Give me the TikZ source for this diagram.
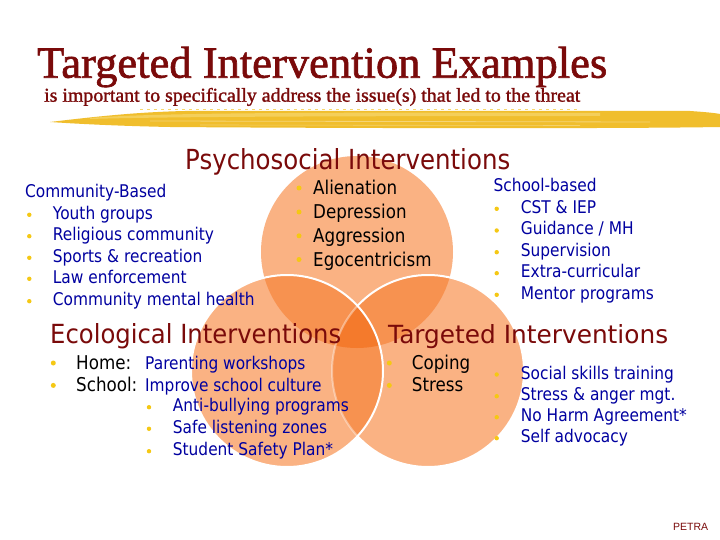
\documentclass[tikz,border=0pt]{standalone}
\usepackage{fontspec}
\setmainfont{Liberation Serif}
\newfontfamily\ttlfont{Liberation Serif}[FakeBold=1.4]
\newfontfamily\subfont{Liberation Serif}[FakeStretch=0.8, FakeBold=1.2]
\newfontfamily\tah{DejaVu Sans}[FakeStretch=0.88]
\newfontfamily\arl{Liberation Sans}
\definecolor{dred}{RGB}{122,10,10}
\definecolor{dblue}{RGB}{0,0,160}
\definecolor{byel}{RGB}{245,200,20}
\definecolor{cone}{RGB}{250,178,131}
\definecolor{ctwo}{RGB}{247,146,80}
\definecolor{cthree}{RGB}{244,122,44}
\definecolor{brushc}{RGB}{240,190,45}
\definecolor{brushl}{RGB}{247,215,110}
\tikzset{
  blu/.style={font=\tah\fontsize{17.5}{20}\selectfont, text=dblue, inner sep=0pt, anchor=base west},
  blk/.style={font=\tah\fontsize{19}{22}\selectfont, text=black, inner sep=0pt, anchor=base west},
  head/.style={text=dred, inner sep=0pt, anchor=base west},
  bul/.style={circle, fill=byel, inner sep=0pt, minimum size=4.4pt},
  bulb/.style={circle, fill=byel, inner sep=0pt, minimum size=5pt},
  ring/.style={white, line width=2pt},
}
\begin{document}
\begin{tikzpicture}[x=1pt,y=-1pt]
\useasboundingbox (0,0) rectangle (720,540);
\fill[white] (0,0) rectangle (720,540);

% brush stroke
\fill[brushc] (50,122) .. controls (100,116) and (140,112) .. (185,111)
  -- (690,111) .. controls (705,112) and (715,113) .. (720,114)
  -- (720,127) .. controls (600,129) and (300,128) .. (170,127)
  .. controls (120,126) and (80,124) .. (50,122) -- cycle;
\fill[brushl, opacity=0.7] (90,118) .. controls (150,113) and (300,112) .. (600,113)
  -- (600,116) .. controls (300,116) and (150,117) .. (90,119) -- cycle;
\draw[white, opacity=0.35, line width=0.8pt] (150,121) -- (650,122);
\draw[white, opacity=0.3, line width=0.6pt] (200,125) -- (580,125.5);
\draw[brushl, line width=1pt, dash pattern=on 3pt off 4pt] (140,109.5) -- (580,109.5);

% circles
\coordinate (T) at (357,252);
\coordinate (L) at (287,371);
\coordinate (R) at (428,371);
\fill[cone] (T) circle (96pt);
\fill[cone] (R) circle (96pt);
\fill[cone] (L) circle (96pt);
\begin{scope}
  \clip (T) circle (96pt);
  \fill[ctwo] (L) circle (96pt);
  \fill[ctwo] (R) circle (96pt);
\end{scope}
\begin{scope}
  \clip (L) circle (96pt);
  \fill[ctwo] (R) circle (96pt);
\end{scope}
\begin{scope}
  \clip (T) circle (96pt);
  \clip (L) circle (96pt);
  \fill[cthree] (R) circle (96pt);
\end{scope}
\begin{scope}[even odd rule]
  \clip (0,0) rectangle (720,540) (L) circle (96pt);
  \draw[ring] (R) circle (96pt);
\end{scope}
\begin{scope}
  \clip (L) circle (96pt);
  \draw[ring, opacity=0.4] (R) circle (96pt);
\end{scope}
\draw[ring] (L) circle (96pt);

% title
\node[head] (title) at (37,77.7) {\resizebox{570pt}{!}{\ttlfont\fontsize{44}{48}\selectfont Targeted Intervention Examples}};
\node[head] (sub) at (44,101.7) {\resizebox{536pt}{13.8pt}{\subfont\fontsize{19}{20}\selectfont is important to specifically address the issue(s) that led to the threat}};

% headings
\node[head] (psy) at (185,169.5) {\resizebox{325pt}{21pt}{\tah\fontsize{28}{30}\selectfont Psychosocial Interventions}};
\node[head] (eco) at (50,343.3) {\resizebox{291pt}{20pt}{\tah\fontsize{26}{28}\selectfont Ecological Interventions}};
\node[head] (tgt) at (388,343.3) {\resizebox{280pt}{19pt}{\tah\fontsize{26}{28}\selectfont Targeted Interventions}};

% community-based
\node[blu] (cb) at (25,197.3) {Community-Based};
\node[bul] (cb1b) at (29.3,214.8) {};
\node[blu] (cb1) at (52.7,219.3) {Youth groups};
\node[bul] (cb2b) at (29.3,236.2) {};
\node[blu] (cb2) at (52.7,240.7) {Religious community};
\node[bul] (cb3b) at (29.3,257.8) {};
\node[blu] (cb3) at (52.7,262.3) {Sports \& recreation};
\node[bul] (cb4b) at (29.3,278.8) {};
\node[blu] (cb4) at (52.7,283.3) {Law enforcement};
\node[bul] (cb5b) at (29.3,301.2) {};
\node[blu] (cb5) at (52.7,305.7) {Community mental health};

% psychosocial list
\node[bulb] (p1b) at (299,188) {};
\node[blk] (p1) at (313,194.5) {Alienation};
\node[bulb] (p2b) at (299,212) {};
\node[blk] (p2) at (313,218.5) {Depression};
\node[bulb] (p3b) at (299,235.8) {};
\node[blk] (p3) at (313,242.3) {Aggression};
\node[bulb] (p4b) at (299,259.5) {};
\node[blk] (p4) at (313,266) {Egocentricism};

% school-based
\node[blu] (sb) at (493.3,191.7) {School-based};
\node[bul] (sb1b) at (496.7,208.8) {};
\node[blu] (sb1) at (520.7,213.3) {CST \& IEP};
\node[bul] (sb2b) at (496.7,230.5) {};
\node[blu] (sb2) at (520.7,235) {Guidance / MH};
\node[bul] (sb3b) at (496.7,252.2) {};
\node[blu] (sb3) at (520.7,256.7) {Supervision};
\node[bul] (sb4b) at (496.7,273.2) {};
\node[blu] (sb4) at (520.7,277.7) {Extra-curricular};
\node[bul] (sb5b) at (496.7,294.8) {};
\node[blu] (sb5) at (520.7,299.3) {Mentor programs};

% ecological
\node[bulb] (e1b) at (53.3,363) {};
\node[blk] (e1) at (76,369.3) {Home:};
\node[blu] (e1t) at (145,369.3) {Parenting workshops};
\node[bulb] (e2b) at (53.3,385.4) {};
\node[blk] (e2) at (76,391.7) {School:};
\node[blu] (e2t) at (145,391.7) {Improve school culture};
\node[bul] (e3b) at (149,407.2) {};
\node[blu] (e3) at (172.7,411.7) {Anti-bullying programs};
\node[bul] (e4b) at (149,428.8) {};
\node[blu] (e4) at (172.7,433.3) {Safe listening zones};
\node[bul] (e5b) at (149,451.2) {};
\node[blu] (e5) at (172.7,455.7) {Student Safety Plan*};

% targeted
\node[bulb] (t1b) at (389.3,363) {};
\node[blk] (t1) at (411.7,369.3) {Coping};
\node[bulb] (t2b) at (389.3,385.4) {};
\node[blk] (t2) at (411.7,391.7) {Stress};
\node[bul] (t3b) at (496.7,374.5) {};
\node[blu] (t3) at (520.7,379) {Social skills training};
\node[bul] (t4b) at (496.7,396.2) {};
\node[blu] (t4) at (520.7,400.7) {Stress \& anger mgt.};
\node[bul] (t5b) at (496.7,417.2) {};
\node[blu] (t5) at (520.7,421.7) {No Harm Agreement*};
\node[bul] (t6b) at (496.7,438.2) {};
\node[blu] (t6) at (520.7,442.7) {Self advocacy};

\node[font=\arl\fontsize{10.5}{12}\selectfont, text=dred, anchor=base west, inner sep=0pt] (petra) at (673,530) {PETRA};
\end{tikzpicture}
\end{document}
